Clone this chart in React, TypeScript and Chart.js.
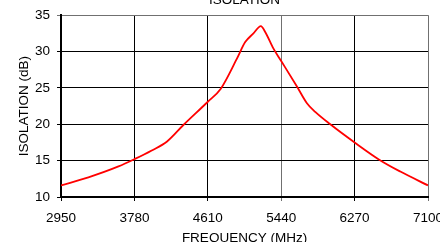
import React, { useEffect, useRef } from "react";
import { Chart, registerables } from "chart.js";

Chart.register(...registerables);

const frequencies = [2950, 3260, 3600, 3780, 3976, 4146, 4334, 4610, 4757, 4938, 5033, 5126, 5210, 5259, 5353, 5440, 5618, 5731, 5825, 5995, 6270, 6553, 6787, 7100];
const isolation = [11.6, 12.7, 14.2, 15.2, 16.4, 17.6, 19.9, 23.1, 24.9, 29.0, 31.3, 32.5, 33.5, 32.7, 30.4, 28.7, 25.2, 22.9, 21.7, 20.0, 17.5, 15.1, 13.5, 11.6];
const xTickValues = [2950, 3780, 4610, 5440, 6270, 7100];
const yTickValues = [10, 15, 20, 25, 30, 35];
const grayXLines = [5440, 7100];
const grayYLines = [35];

const FONT = "'Liberation Sans', Arial, sans-serif";

export default function App() {
  const ref = useRef<HTMLCanvasElement | null>(null);

  useEffect(() => {
    if (!ref.current) return;
    const chart = new Chart(ref.current, {
      type: "line",
      data: {
        datasets: [
          {
            data: frequencies.map((f, i) => ({ x: f, y: isolation[i] })),
            borderColor: "#ff0000",
            borderWidth: 1.8,
            pointRadius: 0,
            fill: false,
            cubicInterpolationMode: "monotone",
          },
        ],
      },
      options: {
        responsive: false,
        animation: false,
        devicePixelRatio: 1,
        layout: { padding: { left: 0, right: 32, top: 0, bottom: 0 } },
        plugins: {
          legend: { display: false },
          tooltip: { enabled: false },
          title: {
            display: true,
            text: "ISOLATION",
            fullSize: false,
            color: "#000",
            font: { family: FONT, size: 13.5, weight: "normal" },
            padding: { top: 12, bottom: 7 },
          },
        },
        scales: {
          x: {
            type: "linear",
            min: 2950,
            max: 7100,
            afterFit: (s: any) => {
              s.height = 63;
            },
            afterBuildTicks: (s: any) => {
              s.ticks = xTickValues.map((v) => ({ value: v }));
            },
            ticks: {
              color: "#000",
              font: { family: FONT, size: 13.5 },
              padding: 9,
              maxRotation: 0,
              autoSkip: false,
              callback: (v: any) => String(v),
            },
            grid: {
              color: (c: any) => (c.tick && grayXLines.includes(c.tick.value) ? "#707070" : "#000"),
              lineWidth: 1,
              tickLength: 4,
            },
            border: { color: "#000", width: 2 },
            title: {
              display: true,
              text: "FREQUENCY (MHz)",
              color: "#000",
              font: { family: FONT, size: 13.5 },
              padding: { top: 0, bottom: 14 },
            },
          },
          y: {
            type: "linear",
            min: 10,
            max: 35,
            afterFit: (s: any) => {
              s.width = 61;
            },
            afterBuildTicks: (s: any) => {
              s.ticks = yTickValues.map((v) => ({ value: v }));
            },
            ticks: {
              color: "#000",
              font: { family: FONT, size: 13.5 },
              padding: 7,
              callback: (v: any) => String(v),
            },
            grid: {
              color: (c: any) => (c.tick && grayYLines.includes(c.tick.value) ? "#707070" : "#000"),
              lineWidth: 1,
              tickLength: 4,
            },
            border: { color: "#000", width: 2 },
            title: {
              display: true,
              text: "ISOLATION (dB)",
              color: "#000",
              font: { family: FONT, size: 13.5 },
              padding: { top: 16, bottom: 0 },
            },
          },
        },
      },
    });
    return () => chart.destroy();
  }, []);

  return (
    <div style={{ position: "fixed", left: 0, top: -20 }}>
      <canvas ref={ref} width={460} height={280} style={{ display: "block" }} />
    </div>
  );
}
